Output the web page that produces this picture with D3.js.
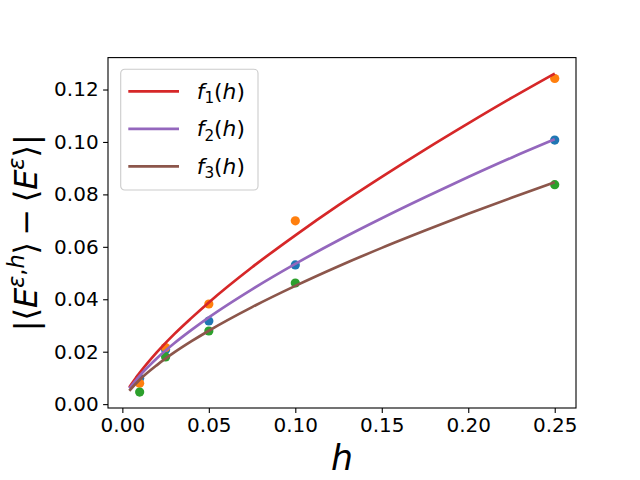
<!DOCTYPE html>
<html>
<head>
<meta charset="utf-8">
<script src="https://cdn.jsdelivr.net/npm/d3@7"></script>
<style>
  body { margin: 0; background: #fff; }
  text { font-family: "DejaVu Sans", sans-serif; fill: #000; }
</style>
</head>
<body>
<script>
// sample points (h values and measured errors)
const hPoints = [0.01, 0.025, 0.05, 0.1, 0.25];
const bluePts = [0.0099, 0.0207, 0.0317, 0.0531, 0.1007];
const orangePts = [0.0080, 0.0216, 0.0382, 0.0699, 0.1242];
const greenPts = [0.0046, 0.0180, 0.0279, 0.0462, 0.0837];

// fitted curves
const hCurve = [0.004, 0.01, 0.02, 0.03, 0.04, 0.05, 0.075, 0.1, 0.125, 0.15, 0.175, 0.2, 0.225, 0.25];
const f1 = [0.0064, 0.0119, 0.0198, 0.0267, 0.0329, 0.0388, 0.0522, 0.0644, 0.0759, 0.0867, 0.0971, 0.1071, 0.1168, 0.1261];
const f2 = [0.0060, 0.0108, 0.0175, 0.0232, 0.0283, 0.0331, 0.0438, 0.0535, 0.0625, 0.0709, 0.0789, 0.0866, 0.0940, 0.1010];
const f3 = [0.0051, 0.0093, 0.0149, 0.0197, 0.0240, 0.0280, 0.0370, 0.0451, 0.0526, 0.0596, 0.0662, 0.0726, 0.0787, 0.0846];

const xTicks = [0.00, 0.05, 0.10, 0.15, 0.20, 0.25];
const yTicks = [0.00, 0.02, 0.04, 0.06, 0.08, 0.10, 0.12];
const legendNames = ["1", "2", "3"];

const W = 640, H = 480;
const margin = {top: 57.6, right: 64, bottom: 72, left: 108};
const width = W - margin.left - margin.right,
      height = H - margin.top - margin.bottom;

// matplotlib style 5% margins
function padded(lo, hi) {
    const r = hi - lo;
    return [lo - 0.05 * r, hi + 0.05 * r];
}
const xExt = d3.extent(hCurve.concat(hPoints));
const yExt = d3.extent(f1.concat(f2, f3, bluePts, orangePts, greenPts));

const x = d3.scaleLinear().domain(padded(xExt[0], xExt[1])).range([0, width]);
const y = d3.scaleLinear().domain(padded(yExt[0], yExt[1])).range([height, 0]);

const svg = d3.select("body").append("svg")
    .attr("width", W)
    .attr("height", H);

const g = svg.append("g")
    .attr("transform", "translate(" + margin.left + "," + margin.top + ")");

// scatter points first, lines go on top
const scatter = [
    {vals: bluePts, color: "#1f77b4"},
    {vals: orangePts, color: "#ff7f0e"},
    {vals: greenPts, color: "#2ca02c"}
];
scatter.forEach(s => {
    g.append("g")
        .selectAll("circle")
        .data(hPoints.map((h, i) => [h, s.vals[i]]))
        .enter()
        .append("circle")
        .attr("cx", d => x(d[0]))
        .attr("cy", d => y(d[1]))
        .attr("r", 4.6)
        .attr("fill", s.color);
});

const curves = [
    {vals: f1, color: "#d62728"},
    {vals: f2, color: "#9467bd"},
    {vals: f3, color: "#8c564b"}
];
const line = d3.line()
    .x(d => x(d[0]))
    .y(d => y(d[1]))
    .curve(d3.curveMonotoneX);
curves.forEach(c => {
    g.append("path")
        .datum(hCurve.map((h, i) => [h, c.vals[i]]))
        .attr("d", line)
        .attr("fill", "none")
        .attr("stroke", c.color)
        .attr("stroke-width", 2.7);
});

// axes
const fontSize = 20;
const xAxis = g.append("g")
    .attr("transform", "translate(0," + height + ")")
    .call(d3.axisBottom(x).tickValues(xTicks).tickFormat(d3.format(".2f")).tickSizeOuter(0).tickSize(4.9).tickPadding(4.5));
const yAxis = g.append("g")
    .call(d3.axisLeft(y).tickValues(yTicks).tickFormat(d3.format(".2f")).tickSizeOuter(0).tickSize(4.9).tickPadding(4.5));
[xAxis, yAxis].forEach(a => {
    a.select(".domain").remove();
    a.selectAll("line").attr("stroke", "#000").attr("stroke-width", 1.1);
    a.selectAll("text").attr("font-family", "DejaVu Sans").attr("font-size", fontSize);
});

// frame
g.append("rect")
    .attr("width", width)
    .attr("height", height)
    .attr("fill", "none")
    .attr("stroke", "#000")
    .attr("stroke-width", 1.1);

// legend
const legFont = 21.8;
const leg = g.append("g").attr("transform", "translate(12.7,11.7)");
leg.append("rect")
    .attr("width", 137.3)
    .attr("height", 120.7)
    .attr("rx", 4)
    .attr("fill", "#fff")
    .attr("fill-opacity", 0.8)
    .attr("stroke", "#cccccc")
    .attr("stroke-width", 1.1);
curves.forEach((c, i) => {
    const ly = 22 + i * 37.5;
    leg.append("line")
        .attr("x1", 7.6).attr("x2", 58.3)
        .attr("y1", ly).attr("y2", ly)
        .attr("stroke", c.color)
        .attr("stroke-width", 2.7);
    const t = leg.append("text")
        .attr("x", 76)
        .attr("y", ly + 7.5)
        .attr("font-size", legFont);
    t.append("tspan").attr("font-style", "italic").text("f");
    t.append("tspan").attr("font-size", legFont * 0.7).attr("dy", 4.5).text(legendNames[i]);
    t.append("tspan").attr("dy", -4.5).text("(");
    t.append("tspan").attr("font-style", "italic").text("h");
    t.append("tspan").text(")");
});

// x label
svg.append("text")
    .attr("x", margin.left + width / 2)
    .attr("y", 470)
    .attr("text-anchor", "middle")
    .attr("font-size", 34.7)
    .attr("font-style", "italic")
    .text("h");

// y label
const ySize = 32;
const yl = svg.append("text")
    .attr("text-anchor", "middle")
    .attr("font-size", ySize)
    .attr("transform", "translate(37," + (margin.top + height / 2) + ") rotate(-90)");
const sup = ySize * 0.7;
yl.append("tspan").text("|⟨");
yl.append("tspan").attr("font-style", "italic").text("E");
yl.append("tspan").attr("font-size", sup).attr("dy", -13).attr("font-style", "italic").text("ε");
yl.append("tspan").attr("font-size", sup).text(",");
yl.append("tspan").attr("font-size", sup).attr("font-style", "italic").text("h");
yl.append("tspan").attr("dy", 13).text("⟩\u2009−\u2009⟨");
yl.append("tspan").attr("font-style", "italic").text("E");
yl.append("tspan").attr("font-size", sup).attr("dy", -13).attr("font-style", "italic").text("ε");
yl.append("tspan").attr("dy", 13).text("⟩|");
</script>
</body>
</html>
